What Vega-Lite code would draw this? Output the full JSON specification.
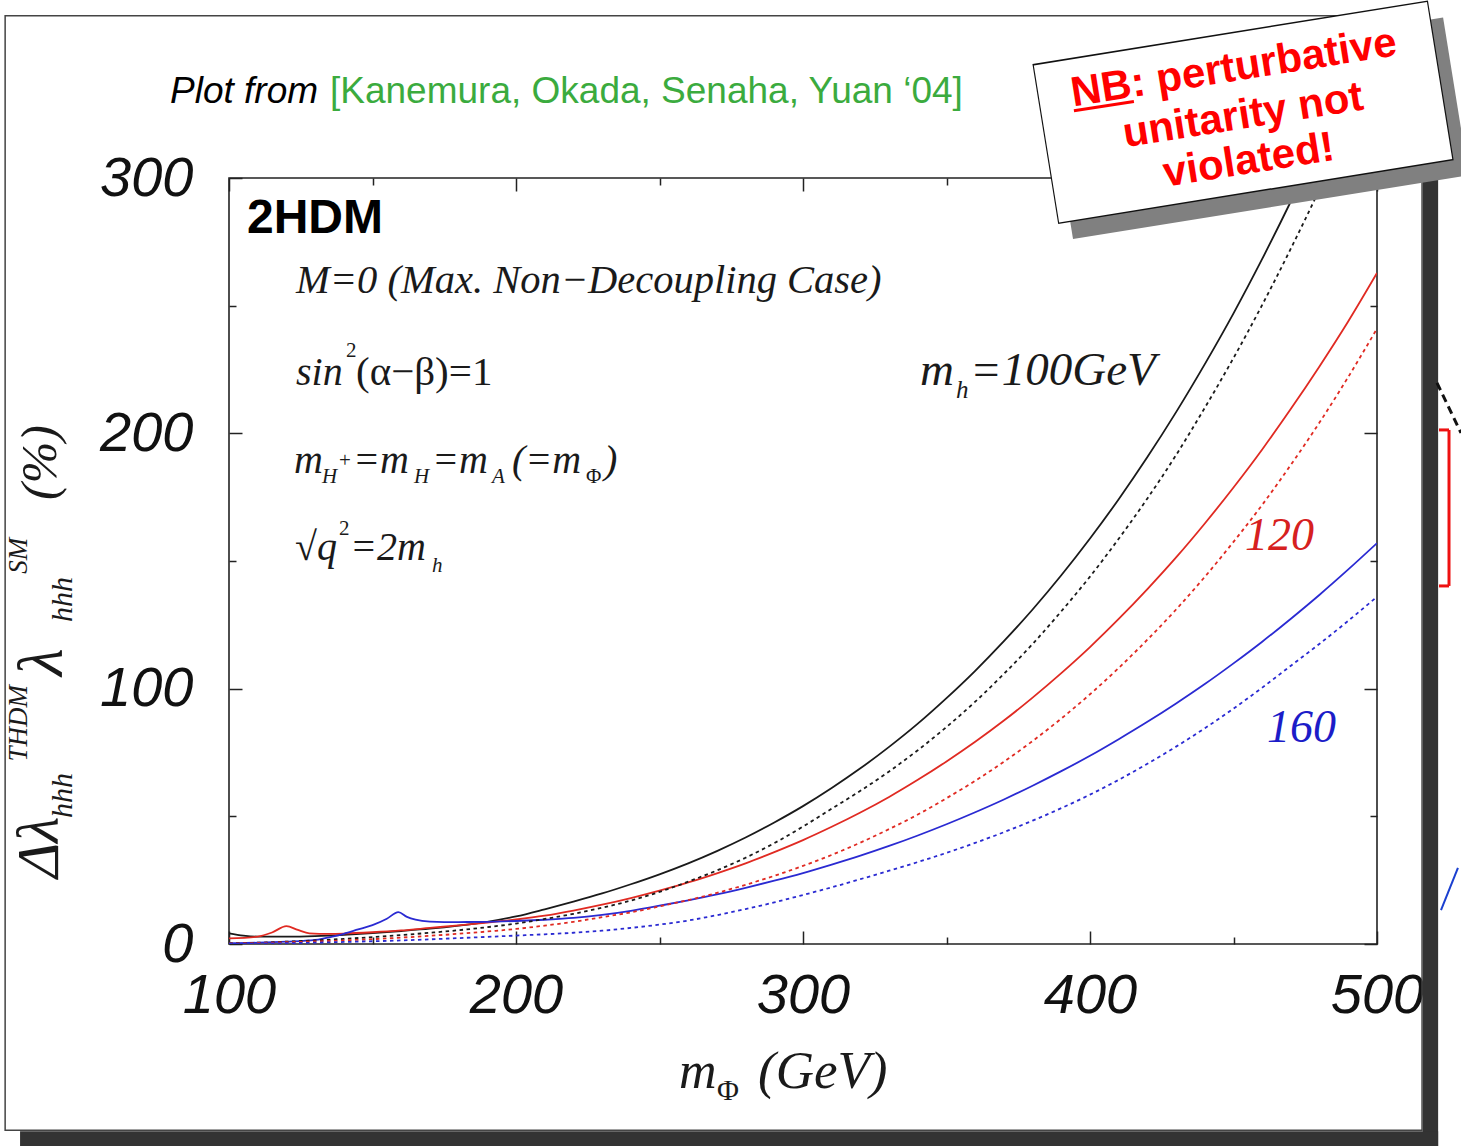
{
  "$schema": "https://vega.github.io/schema/vega-lite/v6.json",
  "width": 1148,
  "height": 766,
  "autosize": {"type": "none"},
  "padding": {"left": 229, "top": 178, "right": 84, "bottom": 202},
  "background": "white",
  "view": {"stroke": "#222", "strokeWidth": 1.6, "fill": null},
  "config": {"axis": {"zindex": 0}},
  "datasets": {
    "curves": [
      {"mphi":100,"delta":4.2,"mh":"100","style":"solid"},{"mphi":105,"delta":3.3,"mh":"100","style":"solid"},{"mphi":110,"delta":2.9,"mh":"100","style":"solid"},{"mphi":120,"delta":2.9,"mh":"100","style":"solid"},{"mphi":130,"delta":3.1,"mh":"100","style":"solid"},{"mphi":140,"delta":3.6,"mh":"100","style":"solid"},{"mphi":150,"delta":4.3,"mh":"100","style":"solid"},{"mphi":160,"delta":5.1,"mh":"100","style":"solid"},{"mphi":170,"delta":6.0,"mh":"100","style":"solid"},{"mphi":180,"delta":7.2,"mh":"100","style":"solid"},{"mphi":190,"delta":8.7,"mh":"100","style":"solid"},{"mphi":200,"delta":10.8,"mh":"100","style":"solid"},{"mphi":210,"delta":13.6,"mh":"100","style":"solid"},{"mphi":220,"delta":16.6,"mh":"100","style":"solid"},{"mphi":230,"delta":19.8,"mh":"100","style":"solid"},{"mphi":240,"delta":23.4,"mh":"100","style":"solid"},{"mphi":250,"delta":27.3,"mh":"100","style":"solid"},{"mphi":260,"delta":31.6,"mh":"100","style":"solid"},{"mphi":270,"delta":36.4,"mh":"100","style":"solid"},{"mphi":280,"delta":41.7,"mh":"100","style":"solid"},{"mphi":290,"delta":47.6,"mh":"100","style":"solid"},{"mphi":300,"delta":54.0,"mh":"100","style":"solid"},{"mphi":310,"delta":61.1,"mh":"100","style":"solid"},{"mphi":320,"delta":68.8,"mh":"100","style":"solid"},{"mphi":330,"delta":77.2,"mh":"100","style":"solid"},{"mphi":340,"delta":86.3,"mh":"100","style":"solid"},{"mphi":350,"delta":96.3,"mh":"100","style":"solid"},{"mphi":360,"delta":107.0,"mh":"100","style":"solid"},{"mphi":370,"delta":118.6,"mh":"100","style":"solid"},{"mphi":380,"delta":131.0,"mh":"100","style":"solid"},{"mphi":390,"delta":144.4,"mh":"100","style":"solid"},{"mphi":400,"delta":158.8,"mh":"100","style":"solid"},{"mphi":410,"delta":174.2,"mh":"100","style":"solid"},{"mphi":420,"delta":190.7,"mh":"100","style":"solid"},{"mphi":430,"delta":208.3,"mh":"100","style":"solid"},{"mphi":440,"delta":227.1,"mh":"100","style":"solid"},{"mphi":450,"delta":247.0,"mh":"100","style":"solid"},{"mphi":460,"delta":268.3,"mh":"100","style":"solid"},{"mphi":470,"delta":290.9,"mh":"100","style":"solid"},{"mphi":480,"delta":314.7,"mh":"100","style":"solid"},{"mphi":490,"delta":340.0,"mh":"100","style":"solid"},{"mphi":500,"delta":366.7,"mh":"100","style":"solid"},
      {"mphi":100,"delta":0.3,"mh":"100","style":"dotted"},{"mphi":110,"delta":0.5,"mh":"100","style":"dotted"},{"mphi":120,"delta":0.9,"mh":"100","style":"dotted"},{"mphi":130,"delta":1.4,"mh":"100","style":"dotted"},{"mphi":140,"delta":2.0,"mh":"100","style":"dotted"},{"mphi":150,"delta":2.7,"mh":"100","style":"dotted"},{"mphi":160,"delta":3.5,"mh":"100","style":"dotted"},{"mphi":170,"delta":4.4,"mh":"100","style":"dotted"},{"mphi":180,"delta":5.4,"mh":"100","style":"dotted"},{"mphi":190,"delta":6.6,"mh":"100","style":"dotted"},{"mphi":200,"delta":8.0,"mh":"100","style":"dotted"},{"mphi":210,"delta":9.8,"mh":"100","style":"dotted"},{"mphi":220,"delta":11.8,"mh":"100","style":"dotted"},{"mphi":230,"delta":14.2,"mh":"100","style":"dotted"},{"mphi":240,"delta":17.0,"mh":"100","style":"dotted"},{"mphi":250,"delta":20.4,"mh":"100","style":"dotted"},{"mphi":260,"delta":24.4,"mh":"100","style":"dotted"},{"mphi":270,"delta":28.8,"mh":"100","style":"dotted"},{"mphi":280,"delta":33.8,"mh":"100","style":"dotted"},{"mphi":290,"delta":39.5,"mh":"100","style":"dotted"},{"mphi":300,"delta":46.0,"mh":"100","style":"dotted"},{"mphi":310,"delta":53.0,"mh":"100","style":"dotted"},{"mphi":320,"delta":60.0,"mh":"100","style":"dotted"},{"mphi":330,"delta":67.6,"mh":"100","style":"dotted"},{"mphi":340,"delta":75.9,"mh":"100","style":"dotted"},{"mphi":350,"delta":85.0,"mh":"100","style":"dotted"},{"mphi":360,"delta":94.9,"mh":"100","style":"dotted"},{"mphi":370,"delta":105.8,"mh":"100","style":"dotted"},{"mphi":380,"delta":117.5,"mh":"100","style":"dotted"},{"mphi":390,"delta":130.3,"mh":"100","style":"dotted"},{"mphi":400,"delta":143.9,"mh":"100","style":"dotted"},{"mphi":410,"delta":158.7,"mh":"100","style":"dotted"},{"mphi":420,"delta":174.5,"mh":"100","style":"dotted"},{"mphi":430,"delta":191.5,"mh":"100","style":"dotted"},{"mphi":440,"delta":210.0,"mh":"100","style":"dotted"},{"mphi":450,"delta":229.5,"mh":"100","style":"dotted"},{"mphi":460,"delta":250.3,"mh":"100","style":"dotted"},{"mphi":470,"delta":272.4,"mh":"100","style":"dotted"},{"mphi":480,"delta":295.7,"mh":"100","style":"dotted"},{"mphi":490,"delta":320.8,"mh":"100","style":"dotted"},{"mphi":500,"delta":347.5,"mh":"100","style":"dotted"},
      {"mphi":100,"delta":2.2,"mh":"120","style":"solid"},{"mphi":110,"delta":2.9,"mh":"120","style":"solid"},{"mphi":115,"delta":4.5,"mh":"120","style":"solid"},{"mphi":120,"delta":7.0,"mh":"120","style":"solid"},{"mphi":124,"delta":5.5,"mh":"120","style":"solid"},{"mphi":128,"delta":4.2,"mh":"120","style":"solid"},{"mphi":135,"delta":4.0,"mh":"120","style":"solid"},{"mphi":140,"delta":4.1,"mh":"120","style":"solid"},{"mphi":150,"delta":4.6,"mh":"120","style":"solid"},{"mphi":160,"delta":5.3,"mh":"120","style":"solid"},{"mphi":170,"delta":6.3,"mh":"120","style":"solid"},{"mphi":180,"delta":7.3,"mh":"120","style":"solid"},{"mphi":190,"delta":8.4,"mh":"120","style":"solid"},{"mphi":200,"delta":9.6,"mh":"120","style":"solid"},{"mphi":210,"delta":11.1,"mh":"120","style":"solid"},{"mphi":220,"delta":13.1,"mh":"120","style":"solid"},{"mphi":230,"delta":15.4,"mh":"120","style":"solid"},{"mphi":240,"delta":18.0,"mh":"120","style":"solid"},{"mphi":250,"delta":20.9,"mh":"120","style":"solid"},{"mphi":260,"delta":24.1,"mh":"120","style":"solid"},{"mphi":270,"delta":27.7,"mh":"120","style":"solid"},{"mphi":280,"delta":31.6,"mh":"120","style":"solid"},{"mphi":290,"delta":36.0,"mh":"120","style":"solid"},{"mphi":300,"delta":40.7,"mh":"120","style":"solid"},{"mphi":310,"delta":45.9,"mh":"120","style":"solid"},{"mphi":320,"delta":51.5,"mh":"120","style":"solid"},{"mphi":330,"delta":57.6,"mh":"120","style":"solid"},{"mphi":340,"delta":64.3,"mh":"120","style":"solid"},{"mphi":350,"delta":71.5,"mh":"120","style":"solid"},{"mphi":360,"delta":79.2,"mh":"120","style":"solid"},{"mphi":370,"delta":87.5,"mh":"120","style":"solid"},{"mphi":380,"delta":96.5,"mh":"120","style":"solid"},{"mphi":390,"delta":106.1,"mh":"120","style":"solid"},{"mphi":400,"delta":116.3,"mh":"120","style":"solid"},{"mphi":410,"delta":127.3,"mh":"120","style":"solid"},{"mphi":420,"delta":139.0,"mh":"120","style":"solid"},{"mphi":430,"delta":151.4,"mh":"120","style":"solid"},{"mphi":440,"delta":164.7,"mh":"120","style":"solid"},{"mphi":450,"delta":178.8,"mh":"120","style":"solid"},{"mphi":460,"delta":193.7,"mh":"120","style":"solid"},{"mphi":470,"delta":209.6,"mh":"120","style":"solid"},{"mphi":480,"delta":226.3,"mh":"120","style":"solid"},{"mphi":490,"delta":243.9,"mh":"120","style":"solid"},{"mphi":500,"delta":262.8,"mh":"120","style":"solid"},
      {"mphi":100,"delta":0.2,"mh":"120","style":"dotted"},{"mphi":110,"delta":0.4,"mh":"120","style":"dotted"},{"mphi":120,"delta":0.7,"mh":"120","style":"dotted"},{"mphi":130,"delta":1.0,"mh":"120","style":"dotted"},{"mphi":140,"delta":1.4,"mh":"120","style":"dotted"},{"mphi":150,"delta":1.9,"mh":"120","style":"dotted"},{"mphi":160,"delta":2.5,"mh":"120","style":"dotted"},{"mphi":170,"delta":3.2,"mh":"120","style":"dotted"},{"mphi":180,"delta":4.0,"mh":"120","style":"dotted"},{"mphi":190,"delta":4.9,"mh":"120","style":"dotted"},{"mphi":200,"delta":5.9,"mh":"120","style":"dotted"},{"mphi":210,"delta":7.2,"mh":"120","style":"dotted"},{"mphi":220,"delta":8.7,"mh":"120","style":"dotted"},{"mphi":230,"delta":10.5,"mh":"120","style":"dotted"},{"mphi":240,"delta":12.4,"mh":"120","style":"dotted"},{"mphi":250,"delta":14.7,"mh":"120","style":"dotted"},{"mphi":260,"delta":17.2,"mh":"120","style":"dotted"},{"mphi":270,"delta":20.0,"mh":"120","style":"dotted"},{"mphi":280,"delta":23.2,"mh":"120","style":"dotted"},{"mphi":290,"delta":26.7,"mh":"120","style":"dotted"},{"mphi":300,"delta":30.6,"mh":"120","style":"dotted"},{"mphi":310,"delta":34.9,"mh":"120","style":"dotted"},{"mphi":320,"delta":39.7,"mh":"120","style":"dotted"},{"mphi":330,"delta":45.0,"mh":"120","style":"dotted"},{"mphi":340,"delta":50.7,"mh":"120","style":"dotted"},{"mphi":350,"delta":57.1,"mh":"120","style":"dotted"},{"mphi":360,"delta":63.9,"mh":"120","style":"dotted"},{"mphi":370,"delta":71.4,"mh":"120","style":"dotted"},{"mphi":380,"delta":79.5,"mh":"120","style":"dotted"},{"mphi":390,"delta":88.3,"mh":"120","style":"dotted"},{"mphi":400,"delta":97.8,"mh":"120","style":"dotted"},{"mphi":410,"delta":108.1,"mh":"120","style":"dotted"},{"mphi":420,"delta":119.2,"mh":"120","style":"dotted"},{"mphi":430,"delta":131.0,"mh":"120","style":"dotted"},{"mphi":440,"delta":143.8,"mh":"120","style":"dotted"},{"mphi":450,"delta":157.5,"mh":"120","style":"dotted"},{"mphi":460,"delta":172.0,"mh":"120","style":"dotted"},{"mphi":470,"delta":187.7,"mh":"120","style":"dotted"},{"mphi":480,"delta":204.3,"mh":"120","style":"dotted"},{"mphi":490,"delta":222.1,"mh":"120","style":"dotted"},{"mphi":500,"delta":241.0,"mh":"120","style":"dotted"},
      {"mphi":100,"delta":0.3,"mh":"160","style":"solid"},{"mphi":110,"delta":0.5,"mh":"160","style":"solid"},{"mphi":120,"delta":0.9,"mh":"160","style":"solid"},{"mphi":130,"delta":1.6,"mh":"160","style":"solid"},{"mphi":136,"delta":2.9,"mh":"160","style":"solid"},{"mphi":140,"delta":4.0,"mh":"160","style":"solid"},{"mphi":145,"delta":5.7,"mh":"160","style":"solid"},{"mphi":150,"delta":7.4,"mh":"160","style":"solid"},{"mphi":155,"delta":9.9,"mh":"160","style":"solid"},{"mphi":159,"delta":12.5,"mh":"160","style":"solid"},{"mphi":162,"delta":10.6,"mh":"160","style":"solid"},{"mphi":165,"delta":9.5,"mh":"160","style":"solid"},{"mphi":170,"delta":8.8,"mh":"160","style":"solid"},{"mphi":180,"delta":8.6,"mh":"160","style":"solid"},{"mphi":190,"delta":8.7,"mh":"160","style":"solid"},{"mphi":200,"delta":9.0,"mh":"160","style":"solid"},{"mphi":210,"delta":9.5,"mh":"160","style":"solid"},{"mphi":220,"delta":10.2,"mh":"160","style":"solid"},{"mphi":230,"delta":11.4,"mh":"160","style":"solid"},{"mphi":240,"delta":13.0,"mh":"160","style":"solid"},{"mphi":250,"delta":15.0,"mh":"160","style":"solid"},{"mphi":260,"delta":17.1,"mh":"160","style":"solid"},{"mphi":270,"delta":19.4,"mh":"160","style":"solid"},{"mphi":280,"delta":22.0,"mh":"160","style":"solid"},{"mphi":290,"delta":24.8,"mh":"160","style":"solid"},{"mphi":300,"delta":27.8,"mh":"160","style":"solid"},{"mphi":310,"delta":31.1,"mh":"160","style":"solid"},{"mphi":320,"delta":34.6,"mh":"160","style":"solid"},{"mphi":330,"delta":38.4,"mh":"160","style":"solid"},{"mphi":340,"delta":42.5,"mh":"160","style":"solid"},{"mphi":350,"delta":46.9,"mh":"160","style":"solid"},{"mphi":360,"delta":51.6,"mh":"160","style":"solid"},{"mphi":370,"delta":56.6,"mh":"160","style":"solid"},{"mphi":380,"delta":62.0,"mh":"160","style":"solid"},{"mphi":390,"delta":67.7,"mh":"160","style":"solid"},{"mphi":400,"delta":73.7,"mh":"160","style":"solid"},{"mphi":410,"delta":80.2,"mh":"160","style":"solid"},{"mphi":420,"delta":87.0,"mh":"160","style":"solid"},{"mphi":430,"delta":94.2,"mh":"160","style":"solid"},{"mphi":440,"delta":101.8,"mh":"160","style":"solid"},{"mphi":450,"delta":109.9,"mh":"160","style":"solid"},{"mphi":460,"delta":118.4,"mh":"160","style":"solid"},{"mphi":470,"delta":127.4,"mh":"160","style":"solid"},{"mphi":480,"delta":136.8,"mh":"160","style":"solid"},{"mphi":490,"delta":146.7,"mh":"160","style":"solid"},{"mphi":500,"delta":157.0,"mh":"160","style":"solid"},
      {"mphi":100,"delta":0.1,"mh":"160","style":"dotted"},{"mphi":120,"delta":0.3,"mh":"160","style":"dotted"},{"mphi":140,"delta":0.8,"mh":"160","style":"dotted"},{"mphi":160,"delta":1.4,"mh":"160","style":"dotted"},{"mphi":180,"delta":2.3,"mh":"160","style":"dotted"},{"mphi":200,"delta":3.3,"mh":"160","style":"dotted"},{"mphi":210,"delta":3.8,"mh":"160","style":"dotted"},{"mphi":220,"delta":4.4,"mh":"160","style":"dotted"},{"mphi":230,"delta":5.2,"mh":"160","style":"dotted"},{"mphi":240,"delta":6.3,"mh":"160","style":"dotted"},{"mphi":250,"delta":7.6,"mh":"160","style":"dotted"},{"mphi":260,"delta":9.2,"mh":"160","style":"dotted"},{"mphi":270,"delta":11.3,"mh":"160","style":"dotted"},{"mphi":280,"delta":13.7,"mh":"160","style":"dotted"},{"mphi":290,"delta":16.3,"mh":"160","style":"dotted"},{"mphi":300,"delta":19.2,"mh":"160","style":"dotted"},{"mphi":310,"delta":22.2,"mh":"160","style":"dotted"},{"mphi":320,"delta":25.4,"mh":"160","style":"dotted"},{"mphi":330,"delta":28.7,"mh":"160","style":"dotted"},{"mphi":340,"delta":32.1,"mh":"160","style":"dotted"},{"mphi":350,"delta":35.7,"mh":"160","style":"dotted"},{"mphi":360,"delta":39.6,"mh":"160","style":"dotted"},{"mphi":370,"delta":43.8,"mh":"160","style":"dotted"},{"mphi":380,"delta":48.3,"mh":"160","style":"dotted"},{"mphi":390,"delta":53.2,"mh":"160","style":"dotted"},{"mphi":400,"delta":58.5,"mh":"160","style":"dotted"},{"mphi":410,"delta":64.3,"mh":"160","style":"dotted"},{"mphi":420,"delta":70.6,"mh":"160","style":"dotted"},{"mphi":430,"delta":77.3,"mh":"160","style":"dotted"},{"mphi":440,"delta":84.5,"mh":"160","style":"dotted"},{"mphi":450,"delta":92.2,"mh":"160","style":"dotted"},{"mphi":460,"delta":100.4,"mh":"160","style":"dotted"},{"mphi":470,"delta":109.0,"mh":"160","style":"dotted"},{"mphi":480,"delta":117.6,"mh":"160","style":"dotted"},{"mphi":490,"delta":126.6,"mh":"160","style":"dotted"},{"mphi":500,"delta":136.0,"mh":"160","style":"dotted"}
    ]
  },
  "layer": [
    {
      "data": {"values": [{}]},
      "layer": [
        {"mark": {"type": "rect", "filled": false, "color": "#444", "strokeWidth": 1.5},
         "encoding": {"x": {"datum": 22.0, "type": "quantitative", "axis": null}, "x2": {"datum": 515.7}, "y": {"datum": -72.9, "type": "quantitative", "axis": null}, "y2": {"datum": 363.5}}},
        {"mark": {"type": "rect", "color": "#333333"},
         "encoding": {"x": {"datum": 516.0, "type": "quantitative", "axis": null}, "x2": {"datum": 521.3}, "y": {"datum": -79.1, "type": "quantitative", "axis": null}, "y2": {"datum": 358.0}}},
        {"mark": {"type": "rect", "color": "#333333"},
         "encoding": {"x": {"datum": 27.2, "type": "quantitative", "axis": null}, "x2": {"datum": 521.3}, "y": {"datum": -79.1, "type": "quantitative", "axis": null}, "y2": {"datum": -73.3}}}
      ]
    },
    {
      "data": {"name": "curves"},
      "transform": [{"filter": "datum.style === 'solid'"}],
      "mark": {"type": "line", "clip": true, "strokeWidth": 1.8, "interpolate": "monotone"},
      "encoding": {
        "x": {"field": "mphi", "type": "quantitative", "scale": {"domain": [100, 500], "nice": false, "zero": false},
          "axis": {"orient": "bottom", "values": [100, 150, 200, 250, 300, 350, 400, 450, 500], "domain": false, "grid": false, "title": null,
            "tickSize": {"condition": {"test": "datum.value % 100 === 0", "value": -13}, "value": -7}, "tickColor": "#222", "tickWidth": 1.5,
            "labelExpr": "datum.value % 100 === 0 ? datum.label : ''", "labelFont": "Liberation Sans", "labelFontStyle": "italic", "labelFontSize": 56, "labelColor": "#111",
            "labelPadding": 37, "labelOverlap": false, "labelFlush": false, "labelBound": false, "labelAngle": 0, "zindex": 0}},
        "y": {"field": "delta", "type": "quantitative", "scale": {"domain": [0, 300], "nice": false, "zero": false},
          "axis": {"orient": "left", "values": [0, 50, 100, 150, 200, 250, 300], "domain": false, "grid": false, "title": null,
            "tickSize": {"condition": {"test": "datum.value % 100 === 0", "value": -13}, "value": -7}, "tickColor": "#222", "tickWidth": 1.5,
            "labelExpr": "datum.value % 100 === 0 ? datum.label : ''", "labelFont": "Liberation Sans", "labelFontStyle": "italic", "labelFontSize": 56, "labelColor": "#111",
            "labelPadding": 49, "labelOverlap": false, "labelFlush": false, "labelBound": false, "zindex": 0}},
        "color": {"field": "mh", "type": "nominal", "scale": {"domain": ["100", "120", "160"], "range": ["#1a1a1a", "#e02a22", "#2a2ad2"]}, "legend": null}
      }
    },
    {
      "data": {"name": "curves"},
      "transform": [{"filter": "datum.style === 'dotted'"}],
      "mark": {"type": "line", "clip": true, "strokeWidth": 1.8, "strokeDash": [3.5, 3.5], "interpolate": "monotone"},
      "encoding": {
        "x": {"field": "mphi", "type": "quantitative", "scale": {"domain": [100, 500], "nice": false, "zero": false},
          "axis": {"orient": "top", "values": [100, 150, 200, 250, 300, 350, 400, 450, 500], "domain": false, "grid": false, "title": null, "labels": false,
            "tickSize": {"condition": {"test": "datum.value % 100 === 0", "value": -13}, "value": -7}, "tickColor": "#222", "tickWidth": 1.5, "zindex": 0}},
        "y": {"field": "delta", "type": "quantitative", "scale": {"domain": [0, 300], "nice": false, "zero": false},
          "axis": {"orient": "right", "values": [0, 50, 100, 150, 200, 250, 300], "domain": false, "grid": false, "title": null, "labels": false,
            "tickSize": {"condition": {"test": "datum.value % 100 === 0", "value": -13}, "value": -7}, "tickColor": "#222", "tickWidth": 1.5, "zindex": 0}},
        "color": {"field": "mh", "type": "nominal", "scale": {"domain": ["100", "120", "160"], "range": ["#1a1a1a", "#e02a22", "#2a2ad2"]}, "legend": null}
      }
    },
    {
      "data": {"values": [{}]},
      "layer": [
        {"mark": {"type": "text", "text": "Plot from", "font": "Liberation Sans", "fontStyle": "italic", "fontSize": 37, "align": "left", "baseline": "alphabetic", "color": "#000"},
         "encoding": {"x": {"datum": 79.44, "type": "quantitative", "axis": null}, "y": {"datum": 329.4, "type": "quantitative", "axis": null}}},
        {"mark": {"type": "text", "text": "[Kanemura, Okada, Senaha, Yuan ‘04]", "font": "Liberation Sans", "fontSize": 37, "align": "left", "baseline": "alphabetic", "color": "#3bab3e"},
         "encoding": {"x": {"datum": 135.19, "type": "quantitative", "axis": null}, "y": {"datum": 329.4, "type": "quantitative", "axis": null}}},
        {"mark": {"type": "text", "text": "2HDM", "font": "Liberation Sans", "fontWeight": "bold", "fontSize": 48, "align": "left", "baseline": "alphabetic", "color": "#000"},
         "encoding": {"x": {"datum": 106.27, "type": "quantitative", "axis": null}, "y": {"datum": 278.5, "type": "quantitative", "axis": null}}},
        {"mark": {"type": "text", "text": "M=0 (Max. Non−Decoupling Case)", "font": "Liberation Serif", "fontStyle": "italic", "fontSize": 40.5, "align": "left", "baseline": "alphabetic", "color": "#1a1a1a"},
         "encoding": {"x": {"datum": 123.34, "type": "quantitative", "axis": null}, "y": {"datum": 255.0, "type": "quantitative", "axis": null}}},
        {"mark": {"type": "text", "text": "sin", "font": "Liberation Serif", "fontStyle": "italic", "fontSize": 40, "align": "left", "baseline": "alphabetic", "color": "#1a1a1a"},
         "encoding": {"x": {"datum": 123.34, "type": "quantitative", "axis": null}, "y": {"datum": 218.96, "type": "quantitative", "axis": null}}},
        {"mark": {"type": "text", "text": "2", "font": "Liberation Serif", "fontSize": 21, "align": "left", "baseline": "alphabetic", "color": "#1a1a1a"},
         "encoding": {"x": {"datum": 140.77, "type": "quantitative", "axis": null}, "y": {"datum": 229.9, "type": "quantitative", "axis": null}}},
        {"mark": {"type": "text", "text": "(α−β)=1", "font": "Liberation Serif", "fontSize": 41, "align": "left", "baseline": "alphabetic", "color": "#1a1a1a"},
         "encoding": {"x": {"datum": 144.25, "type": "quantitative", "axis": null}, "y": {"datum": 218.96, "type": "quantitative", "axis": null}}},
        {"mark": {"type": "text", "text": "m", "font": "Liberation Serif", "fontStyle": "italic", "fontSize": 40, "align": "left", "baseline": "alphabetic", "color": "#1a1a1a"},
         "encoding": {"x": {"datum": 122.65, "type": "quantitative", "axis": null}, "y": {"datum": 184.5, "type": "quantitative", "axis": null}}},
        {"mark": {"type": "text", "text": "H", "font": "Liberation Serif", "fontStyle": "italic", "fontSize": 21, "align": "left", "baseline": "alphabetic", "color": "#1a1a1a"},
         "encoding": {"x": {"datum": 132.4, "type": "quantitative", "axis": null}, "y": {"datum": 180.6, "type": "quantitative", "axis": null}}},
        {"mark": {"type": "text", "text": "+", "font": "Liberation Serif", "fontSize": 21, "align": "left", "baseline": "alphabetic", "color": "#1a1a1a"},
         "encoding": {"x": {"datum": 138.33, "type": "quantitative", "axis": null}, "y": {"datum": 186.8, "type": "quantitative", "axis": null}}},
        {"mark": {"type": "text", "text": "=m", "font": "Liberation Serif", "fontStyle": "italic", "fontSize": 40, "align": "left", "baseline": "alphabetic", "color": "#1a1a1a"},
         "encoding": {"x": {"datum": 143.21, "type": "quantitative", "axis": null}, "y": {"datum": 184.5, "type": "quantitative", "axis": null}}},
        {"mark": {"type": "text", "text": "H", "font": "Liberation Serif", "fontStyle": "italic", "fontSize": 21, "align": "left", "baseline": "alphabetic", "color": "#1a1a1a"},
         "encoding": {"x": {"datum": 164.46, "type": "quantitative", "axis": null}, "y": {"datum": 180.6, "type": "quantitative", "axis": null}}},
        {"mark": {"type": "text", "text": "=m", "font": "Liberation Serif", "fontStyle": "italic", "fontSize": 40, "align": "left", "baseline": "alphabetic", "color": "#1a1a1a"},
         "encoding": {"x": {"datum": 170.73, "type": "quantitative", "axis": null}, "y": {"datum": 184.5, "type": "quantitative", "axis": null}}},
        {"mark": {"type": "text", "text": "A", "font": "Liberation Serif", "fontStyle": "italic", "fontSize": 21, "align": "left", "baseline": "alphabetic", "color": "#1a1a1a"},
         "encoding": {"x": {"datum": 191.6, "type": "quantitative", "axis": null}, "y": {"datum": 180.6, "type": "quantitative", "axis": null}}},
        {"mark": {"type": "text", "text": "(=m", "font": "Liberation Serif", "fontStyle": "italic", "fontSize": 40, "align": "left", "baseline": "alphabetic", "color": "#1a1a1a"},
         "encoding": {"x": {"datum": 198.6, "type": "quantitative", "axis": null}, "y": {"datum": 184.5, "type": "quantitative", "axis": null}}},
        {"mark": {"type": "text", "text": "Φ", "font": "Liberation Serif", "fontSize": 21, "align": "left", "baseline": "alphabetic", "color": "#1a1a1a"},
         "encoding": {"x": {"datum": 224.4, "type": "quantitative", "axis": null}, "y": {"datum": 180.6, "type": "quantitative", "axis": null}}},
        {"mark": {"type": "text", "text": ")", "font": "Liberation Serif", "fontStyle": "italic", "fontSize": 40, "align": "left", "baseline": "alphabetic", "color": "#1a1a1a"},
         "encoding": {"x": {"datum": 230.7, "type": "quantitative", "axis": null}, "y": {"datum": 184.5, "type": "quantitative", "axis": null}}},
        {"mark": {"type": "text", "text": "√q", "font": "Liberation Serif", "fontStyle": "italic", "fontSize": 40, "align": "left", "baseline": "alphabetic", "color": "#1a1a1a"},
         "encoding": {"x": {"datum": 123.0, "type": "quantitative", "axis": null}, "y": {"datum": 150.41, "type": "quantitative", "axis": null}}},
        {"mark": {"type": "text", "text": "2", "font": "Liberation Serif", "fontSize": 21, "align": "left", "baseline": "alphabetic", "color": "#1a1a1a"},
         "encoding": {"x": {"datum": 138.33, "type": "quantitative", "axis": null}, "y": {"datum": 160.2, "type": "quantitative", "axis": null}}},
        {"mark": {"type": "text", "text": "=2m", "font": "Liberation Serif", "fontStyle": "italic", "fontSize": 40, "align": "left", "baseline": "alphabetic", "color": "#1a1a1a"},
         "encoding": {"x": {"datum": 142.16, "type": "quantitative", "axis": null}, "y": {"datum": 150.41, "type": "quantitative", "axis": null}}},
        {"mark": {"type": "text", "text": "h", "font": "Liberation Serif", "fontStyle": "italic", "fontSize": 21, "align": "left", "baseline": "alphabetic", "color": "#1a1a1a"},
         "encoding": {"x": {"datum": 170.73, "type": "quantitative", "axis": null}, "y": {"datum": 145.71, "type": "quantitative", "axis": null}}},
        {"mark": {"type": "text", "text": "m", "font": "Liberation Serif", "fontStyle": "italic", "fontSize": 47, "align": "left", "baseline": "alphabetic", "color": "#1a1a1a"},
         "encoding": {"x": {"datum": 340.77, "type": "quantitative", "axis": null}, "y": {"datum": 218.96, "type": "quantitative", "axis": null}}},
        {"mark": {"type": "text", "text": "h", "font": "Liberation Serif", "fontStyle": "italic", "fontSize": 25, "align": "left", "baseline": "alphabetic", "color": "#1a1a1a"},
         "encoding": {"x": {"datum": 353.3, "type": "quantitative", "axis": null}, "y": {"datum": 213.87, "type": "quantitative", "axis": null}}},
        {"mark": {"type": "text", "text": "=100GeV", "font": "Liberation Serif", "fontStyle": "italic", "fontSize": 47, "align": "left", "baseline": "alphabetic", "color": "#1a1a1a"},
         "encoding": {"x": {"datum": 358.2, "type": "quantitative", "axis": null}, "y": {"datum": 218.96, "type": "quantitative", "axis": null}}},
        {"mark": {"type": "text", "text": "120", "font": "Liberation Serif", "fontStyle": "italic", "fontSize": 46, "align": "left", "baseline": "alphabetic", "color": "#d62020"},
         "encoding": {"x": {"datum": 454.01, "type": "quantitative", "axis": null}, "y": {"datum": 154.33, "type": "quantitative", "axis": null}}},
        {"mark": {"type": "text", "text": "160", "font": "Liberation Serif", "fontStyle": "italic", "fontSize": 46, "align": "left", "baseline": "alphabetic", "color": "#1c1cc8"},
         "encoding": {"x": {"datum": 461.67, "type": "quantitative", "axis": null}, "y": {"datum": 79.12, "type": "quantitative", "axis": null}}},
        {"mark": {"type": "text", "text": "m", "font": "Liberation Serif", "fontStyle": "italic", "fontSize": 52, "align": "left", "baseline": "alphabetic", "color": "#1a1a1a"},
         "encoding": {"x": {"datum": 256.79, "type": "quantitative", "axis": null}, "y": {"datum": -56.4, "type": "quantitative", "axis": null}}},
        {"mark": {"type": "text", "text": "Φ", "font": "Liberation Serif", "fontSize": 30, "align": "left", "baseline": "alphabetic", "color": "#1a1a1a"},
         "encoding": {"x": {"datum": 270.03, "type": "quantitative", "axis": null}, "y": {"datum": -61.1, "type": "quantitative", "axis": null}}},
        {"mark": {"type": "text", "text": "(GeV)", "font": "Liberation Serif", "fontStyle": "italic", "fontSize": 53, "align": "left", "baseline": "alphabetic", "color": "#1a1a1a"},
         "encoding": {"x": {"datum": 284.32, "type": "quantitative", "axis": null}, "y": {"datum": -56.4, "type": "quantitative", "axis": null}}},
        {"mark": {"type": "text", "text": "Δλ", "font": "Liberation Serif", "fontStyle": "italic", "fontSize": 60, "angle": 270, "align": "left", "baseline": "alphabetic", "color": "#1a1a1a"},
         "encoding": {"x": {"datum": 40.42, "type": "quantitative", "axis": null}, "y": {"datum": 25.85, "type": "quantitative", "axis": null}}},
        {"mark": {"type": "text", "text": "hhh", "font": "Liberation Serif", "fontStyle": "italic", "fontSize": 30, "angle": 270, "align": "left", "baseline": "alphabetic", "color": "#1a1a1a"},
         "encoding": {"x": {"datum": 45.3, "type": "quantitative", "axis": null}, "y": {"datum": 49.35, "type": "quantitative", "axis": null}}},
        {"mark": {"type": "text", "text": "THDM", "font": "Liberation Serif", "fontStyle": "italic", "fontSize": 27, "angle": 270, "align": "left", "baseline": "alphabetic", "color": "#1a1a1a"},
         "encoding": {"x": {"datum": 29.6, "type": "quantitative", "axis": null}, "y": {"datum": 71.5, "type": "quantitative", "axis": null}}},
        {"mark": {"type": "text", "text": "λ", "font": "Liberation Serif", "fontStyle": "italic", "fontSize": 64, "angle": 270, "align": "left", "baseline": "alphabetic", "color": "#1a1a1a"},
         "encoding": {"x": {"datum": 41.8, "type": "quantitative", "axis": null}, "y": {"datum": 105.0, "type": "quantitative", "axis": null}}},
        {"mark": {"type": "text", "text": "hhh", "font": "Liberation Serif", "fontStyle": "italic", "fontSize": 30, "angle": 270, "align": "left", "baseline": "alphabetic", "color": "#1a1a1a"},
         "encoding": {"x": {"datum": 45.3, "type": "quantitative", "axis": null}, "y": {"datum": 126.13, "type": "quantitative", "axis": null}}},
        {"mark": {"type": "text", "text": "SM", "font": "Liberation Serif", "fontStyle": "italic", "fontSize": 27, "angle": 270, "align": "left", "baseline": "alphabetic", "color": "#1a1a1a"},
         "encoding": {"x": {"datum": 29.6, "type": "quantitative", "axis": null}, "y": {"datum": 145.0, "type": "quantitative", "axis": null}}},
        {"mark": {"type": "text", "text": "(%)", "font": "Liberation Serif", "fontStyle": "italic", "fontSize": 50, "angle": 270, "align": "left", "baseline": "alphabetic", "color": "#1a1a1a"},
         "encoding": {"x": {"datum": 39.72, "type": "quantitative", "axis": null}, "y": {"datum": 173.91, "type": "quantitative", "axis": null}}},
        {"mark": {"type": "rule", "color": "#808080", "strokeWidth": 160, "strokeCap": "butt"},
         "encoding": {"x": {"datum": 389.65, "type": "quantitative", "axis": null}, "y": {"datum": 307.01, "type": "quantitative", "axis": null}, "x2": {"datum": 527.46}, "y2": {"datum": 331.96}}},
        {"mark": {"type": "rule", "color": "#111", "strokeWidth": 162, "strokeCap": "butt"},
         "encoding": {"x": {"datum": 384.43, "type": "quantitative", "axis": null}, "y": {"datum": 313.28, "type": "quantitative", "axis": null}, "x2": {"datum": 522.23}, "y2": {"datum": 338.23}}},
        {"mark": {"type": "rule", "color": "#ffffff", "strokeWidth": 159, "strokeCap": "butt"},
         "encoding": {"x": {"datum": 384.84, "type": "quantitative", "axis": null}, "y": {"datum": 313.36, "type": "quantitative", "axis": null}, "x2": {"datum": 521.81}, "y2": {"datum": 338.15}}},
        {"mark": {"type": "text", "text": "NB: perturbative", "font": "Liberation Sans", "fontWeight": "bold", "fontSize": 42, "angle": -9, "align": "center", "baseline": "alphabetic", "color": "#ff0000"},
         "encoding": {"x": {"datum": 450.8, "type": "quantitative", "axis": null}, "y": {"datum": 338.1, "type": "quantitative", "axis": null}}},
        {"mark": {"type": "text", "text": "unitarity not", "font": "Liberation Sans", "fontWeight": "bold", "fontSize": 42, "angle": -9, "align": "center", "baseline": "alphabetic", "color": "#ff0000"},
         "encoding": {"x": {"datum": 454.01, "type": "quantitative", "axis": null}, "y": {"datum": 319.5, "type": "quantitative", "axis": null}}},
        {"mark": {"type": "text", "text": "violated!", "font": "Liberation Sans", "fontWeight": "bold", "fontSize": 42, "angle": -9, "align": "center", "baseline": "alphabetic", "color": "#ff0000"},
         "encoding": {"x": {"datum": 456.03, "type": "quantitative", "axis": null}, "y": {"datum": 301.9, "type": "quantitative", "axis": null}}},
        {"mark": {"type": "rule", "color": "#ff0000", "strokeWidth": 3},
         "encoding": {"x": {"datum": 394.4, "type": "quantitative", "axis": null}, "y": {"datum": 326.3, "type": "quantitative", "axis": null}, "x2": {"datum": 415.3}, "y2": {"datum": 330.0}}},
        {"mark": {"type": "rule", "color": "#ee1111", "strokeWidth": 3},
         "encoding": {"x": {"datum": 525.09, "type": "quantitative", "axis": null}, "y": {"datum": 140.23, "type": "quantitative", "axis": null}, "x2": {"datum": 525.09}, "y2": {"datum": 201.33}}},
        {"mark": {"type": "rule", "color": "#ee1111", "strokeWidth": 3},
         "encoding": {"x": {"datum": 521.6, "type": "quantitative", "axis": null}, "y": {"datum": 201.33, "type": "quantitative", "axis": null}, "x2": {"datum": 525.09}, "y2": {"datum": 201.33}}},
        {"mark": {"type": "rule", "color": "#ee1111", "strokeWidth": 3},
         "encoding": {"x": {"datum": 521.6, "type": "quantitative", "axis": null}, "y": {"datum": 140.23, "type": "quantitative", "axis": null}, "x2": {"datum": 525.09}, "y2": {"datum": 140.23}}},
        {"mark": {"type": "rule", "color": "#111", "strokeWidth": 3, "strokeDash": [8, 5]},
         "encoding": {"x": {"datum": 520.91, "type": "quantitative", "axis": null}, "y": {"datum": 219.74, "type": "quantitative", "axis": null}, "x2": {"datum": 529.27}, "y2": {"datum": 200.16}}},
        {"mark": {"type": "rule", "color": "#1a3fd0", "strokeWidth": 2},
         "encoding": {"x": {"datum": 522.3, "type": "quantitative", "axis": null}, "y": {"datum": 13.3, "type": "quantitative", "axis": null}, "x2": {"datum": 528.2}, "y2": {"datum": 29.8}}}
      ]
    }
  ]
}
